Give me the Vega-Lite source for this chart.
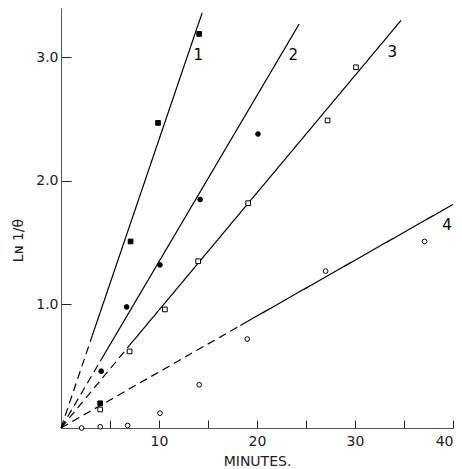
{
  "$schema": "https://vega.github.io/schema/vega-lite/v6.json",
  "width": 392,
  "height": 420,
  "autosize": {"type": "none"},
  "padding": {"left": 61, "top": 8, "right": 9, "bottom": 41},
  "background": "white",
  "config": {
    "view": {"stroke": null},
    "font": "DejaVu Sans",
    "axis": {"grid": false, "domainColor": "#555", "tickColor": "#222", "labelColor": "#222", "titleColor": "#222", "labelFont": "DejaVu Sans", "titleFont": "DejaVu Sans", "titleFontWeight": "normal", "labelFontSize": 13, "titleFontSize": 13}
  },
  "datasets": {
    "lines": [
      {"series": "1", "seg": "dashed", "minutes": 0, "value": 0},
      {"series": "1", "seg": "dashed", "minutes": 3.2, "value": 0.75},
      {"series": "1s", "seg": "solid", "minutes": 3.2, "value": 0.75},
      {"series": "1s", "seg": "solid", "minutes": 14.4, "value": 3.36},
      {"series": "2", "seg": "dashed", "minutes": 0, "value": 0},
      {"series": "2", "seg": "dashed", "minutes": 4.0, "value": 0.54},
      {"series": "2s", "seg": "solid", "minutes": 4.0, "value": 0.54},
      {"series": "2s", "seg": "solid", "minutes": 24.3, "value": 3.27},
      {"series": "3", "seg": "dashed", "minutes": 0, "value": 0},
      {"series": "3", "seg": "dashed", "minutes": 7.0, "value": 0.67},
      {"series": "3s", "seg": "solid", "minutes": 7.0, "value": 0.67},
      {"series": "3s", "seg": "solid", "minutes": 34.7, "value": 3.30},
      {"series": "4", "seg": "dashed", "minutes": 0, "value": 0},
      {"series": "4", "seg": "dashed", "minutes": 18.3, "value": 0.83},
      {"series": "4s", "seg": "solid", "minutes": 18.3, "value": 0.83},
      {"series": "4s", "seg": "solid", "minutes": 40, "value": 1.81}
    ],
    "points": [
      {"series": "1", "minutes": 4.0, "value": 0.20},
      {"series": "1", "minutes": 7.1, "value": 1.51},
      {"series": "1", "minutes": 9.9, "value": 2.47},
      {"series": "1", "minutes": 14.1, "value": 3.19},
      {"series": "2", "minutes": 4.1, "value": 0.46},
      {"series": "2", "minutes": 6.7, "value": 0.98},
      {"series": "2", "minutes": 10.1, "value": 1.32},
      {"series": "2", "minutes": 14.2, "value": 1.85},
      {"series": "2", "minutes": 20.1, "value": 2.38},
      {"series": "3", "minutes": 4.0, "value": 0.15},
      {"series": "3", "minutes": 7.0, "value": 0.62},
      {"series": "3", "minutes": 10.6, "value": 0.96},
      {"series": "3", "minutes": 14.0, "value": 1.35},
      {"series": "3", "minutes": 19.1, "value": 1.82},
      {"series": "3", "minutes": 27.2, "value": 2.49},
      {"series": "3", "minutes": 30.1, "value": 2.92},
      {"series": "4", "minutes": 2.1, "value": 0.0},
      {"series": "4", "minutes": 4.0, "value": 0.01},
      {"series": "4", "minutes": 6.8, "value": 0.02},
      {"series": "4", "minutes": 10.1, "value": 0.12},
      {"series": "4", "minutes": 14.1, "value": 0.35},
      {"series": "4", "minutes": 19.0, "value": 0.72},
      {"series": "4", "minutes": 27.0, "value": 1.27},
      {"series": "4", "minutes": 37.1, "value": 1.51}
    ],
    "labels": [
      {"label": "1", "minutes": 14.0, "value": 3.02},
      {"label": "2", "minutes": 23.7, "value": 3.02},
      {"label": "3", "minutes": 33.8, "value": 3.04},
      {"label": "4", "minutes": 39.4, "value": 1.64}
    ]
  },
  "layer": [
    {
      "data": {"name": "lines"},
      "mark": {"type": "line", "color": "black", "strokeWidth": 1.2},
      "encoding": {
        "x": {"field": "minutes", "type": "quantitative", "scale": {"domain": [0, 40], "nice": false},
          "axis": {"values": [5, 10, 15, 20, 25, 30, 35, 40], "labelExpr": "datum.value % 10 == 0 ? datum.label : ''", "tickSize": -8, "labelPadding": 14, "title": "MINUTES.", "titlePadding": 6, "labelFontSize": 14, "titleFontSize": 14}},
        "y": {"field": "value", "type": "quantitative", "scale": {"domain": [0, 3.4], "nice": false},
          "axis": {"values": [1, 2, 3], "format": ".1f", "tickSize": -10, "labelPadding": 13, "title": "Lɴ 1/θ", "titleX": -36, "titleY": 232, "labelFontSize": 14, "titleFontSize": 14}},
        "detail": {"field": "series"},
        "strokeDash": {"field": "seg", "type": "nominal", "scale": {"domain": ["solid", "dashed"], "range": [[1, 0], [8, 5]]}, "legend": null}
      }
    },
    {
      "data": {"name": "points"},
      "mark": {"type": "point", "filled": true, "stroke": "black", "strokeWidth": 1, "size": 22, "opacity": 1},
      "encoding": {
        "x": {"field": "minutes", "type": "quantitative"},
        "y": {"field": "value", "type": "quantitative"},
        "shape": {"field": "series", "type": "nominal", "scale": {"domain": ["1", "2", "3", "4"], "range": ["square", "circle", "square", "circle"]}, "legend": null},
        "fill": {"field": "series", "type": "nominal", "scale": {"domain": ["1", "2", "3", "4"], "range": ["black", "black", "white", "white"]}, "legend": null}
      }
    },
    {
      "data": {"name": "labels"},
      "mark": {"type": "text", "fontSize": 15, "color": "black", "font": "DejaVu Sans"},
      "encoding": {
        "x": {"field": "minutes", "type": "quantitative"},
        "y": {"field": "value", "type": "quantitative"},
        "text": {"field": "label"}
      }
    }
  ]
}
